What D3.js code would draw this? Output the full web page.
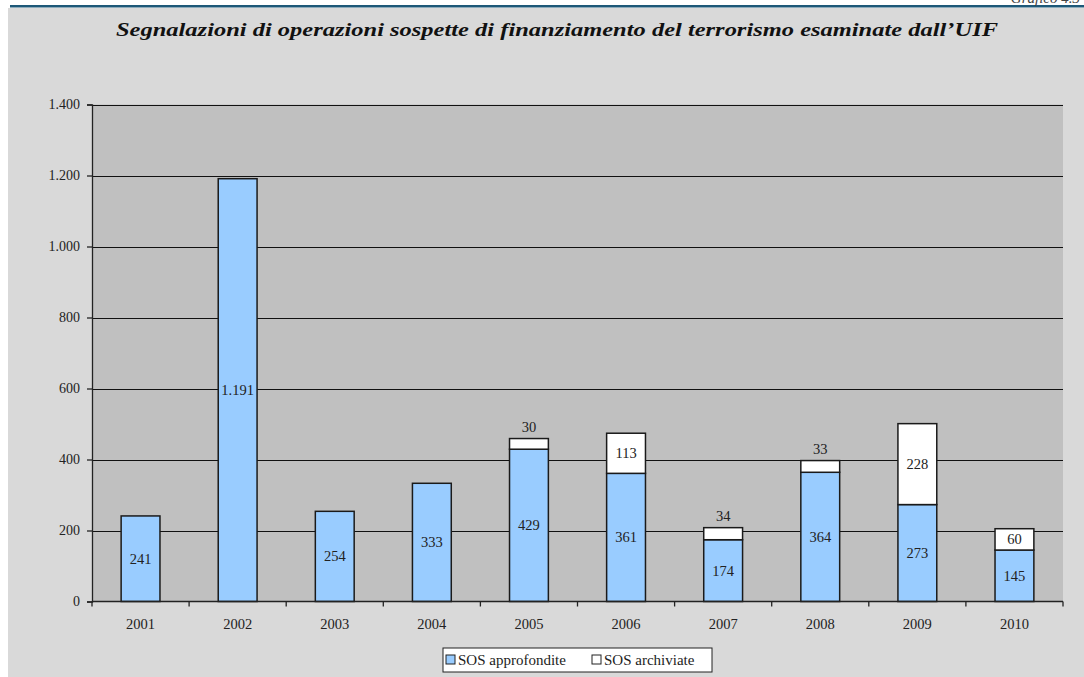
<!DOCTYPE html>
<html>
<head>
<meta charset="utf-8">
<script src="https://cdn.jsdelivr.net/npm/d3@7"></script>
<style>
  html, body { margin: 0; padding: 0; background: #fff; }
  svg { display: block; }
</style>
</head>
<body>
<svg id="chart" width="1084" height="677"></svg>
<script>
const years = ["2001", "2002", "2003", "2004", "2005", "2006", "2007", "2008", "2009", "2010"];
const approfondite = [241, 1191, 254, 333, 429, 361, 174, 364, 273, 145];
const archiviate = [0, 0, 0, 0, 30, 113, 34, 33, 228, 60];
const yTicks = [0, 200, 400, 600, 800, 1000, 1200, 1400];
const seriesNames = ["SOS approfondite", "SOS archiviate"];
const seriesColors = ["#99ccff", "#ffffff"];

const FONT = "Liberation Serif, Times New Roman, serif";
const it = d3.formatLocale({ decimal: ",", thousands: ".", grouping: [3], currency: ["€", ""] });
const fmt = it.format(",d");

const svg = d3.select("#chart").attr("font-family", FONT);

// page frame
svg.append("rect").attr("x", 8).attr("y", 8).attr("width", 1076).attr("height", 669).attr("fill", "#d9d9d9");
svg.append("rect").attr("x", 10).attr("y", 5).attr("width", 1074).attr("height", 2.5).attr("fill", "#1d5878");
svg.append("text")
  .attr("x", 1080).attr("y", 3)
  .attr("text-anchor", "end")
  .attr("font-family", FONT).attr("font-style", "italic").attr("font-size", 15).attr("fill", "#444")
  .text("Grafico 4.3");

svg.append("text")
  .attr("x", 557).attr("y", 36)
  .attr("text-anchor", "middle")
  .attr("textLength", 882).attr("lengthAdjust", "spacingAndGlyphs")
  .attr("font-family", FONT).attr("font-style", "italic").attr("font-weight", "bold")
  .attr("font-size", 19).attr("fill", "#111")
  .text("Segnalazioni di operazioni sospette di finanziamento del terrorismo esaminate dall\u2019UIF");

const plotL = 92, plotR = 1063, plotT = 104.5, plotB = 601.5;

const x = d3.scaleBand().domain(years).range([plotL, plotR]).paddingInner(0.6).paddingOuter(0.3);
const y = d3.scaleLinear().domain([0, 1400]).range([plotB, plotT]);

svg.append("rect")
  .attr("x", plotL).attr("y", plotT).attr("width", plotR - plotL).attr("height", plotB - plotT)
  .attr("fill", "#c0c0c0");

// gridlines
svg.append("g").selectAll("line").data(yTicks.slice(1)).join("line")
  .attr("x1", plotL).attr("x2", plotR)
  .attr("y1", d => Math.round(y(d)) + 0.5).attr("y2", d => Math.round(y(d)) + 0.5)
  .attr("stroke", "#111").attr("stroke-width", 1);

// stacked bars
const rows = years.map((yr, i) => ({ year: yr, approfondite: approfondite[i], archiviate: archiviate[i] }));
const stack = d3.stack().keys(["approfondite", "archiviate"])(rows);

stack.forEach((layer, li) => {
  const g = svg.append("g");
  g.selectAll("rect").data(layer.filter(d => d[1] > d[0])).join("rect")
    .attr("x", d => x(d.data.year))
    .attr("y", d => y(d[1]))
    .attr("width", x.bandwidth())
    .attr("height", d => y(d[0]) - y(d[1]))
    .attr("fill", seriesColors[li])
    .attr("stroke", "#1a1a1a").attr("stroke-width", 1.5);

  g.selectAll("text").data(layer.filter(d => d[1] > d[0])).join("text")
    .attr("x", d => x(d.data.year) + x.bandwidth() / 2)
    .attr("y", d => {
      const h = y(d[0]) - y(d[1]);
      return h < 16 ? y(d[1]) - 7 : (y(d[0]) + y(d[1])) / 2 + 5;
    })
    .attr("text-anchor", "middle")
    .attr("font-family", FONT).attr("font-size", 14.5).attr("fill", "#222")
    .text(d => fmt(d[1] - d[0]));
});

// y axis
const yAxis = svg.append("g")
  .attr("transform", `translate(${plotL},0)`)
  .call(d3.axisLeft(y).tickValues(yTicks).tickFormat(fmt).tickSize(5).tickPadding(7));
yAxis.attr("font-family", FONT).attr("font-size", 14);
yAxis.selectAll("path, line").attr("stroke", "#222").attr("stroke-width", 1.3);
yAxis.selectAll("text").attr("fill", "#222");

// x axis
const xAxis = svg.append("g").attr("transform", `translate(0,${plotB})`);
xAxis.append("line").attr("x1", plotL).attr("x2", plotR).attr("stroke", "#222").attr("stroke-width", 1.3);
const step = x.step();
xAxis.selectAll("line.tick").data(d3.range(years.length + 1)).join("line")
  .attr("class", "tick")
  .attr("x1", i => plotL + i * step).attr("x2", i => plotL + i * step)
  .attr("y1", 0).attr("y2", 5)
  .attr("stroke", "#222").attr("stroke-width", 1.3);
xAxis.selectAll("text").data(years).join("text")
  .attr("x", d => x(d) + x.bandwidth() / 2)
  .attr("y", 27)
  .attr("text-anchor", "middle")
  .attr("font-family", FONT).attr("font-size", 14.5).attr("fill", "#222")
  .text(d => d);

// legend
const lg = svg.append("g").attr("transform", "translate(443,648)");
lg.append("rect").attr("width", 269).attr("height", 24).attr("fill", "#fff").attr("stroke", "#222").attr("stroke-width", 1);
const lx = [3, 149];
seriesNames.forEach((name, i) => {
  lg.append("rect").attr("x", lx[i]).attr("y", 7).attr("width", 9).attr("height", 9)
    .attr("fill", seriesColors[i]).attr("stroke", "#222").attr("stroke-width", 1);
  lg.append("text").attr("x", lx[i] + 12).attr("y", 17)
    .attr("font-family", FONT).attr("font-size", 15).attr("fill", "#222")
    .text(name);
});
</script>
</body>
</html>
